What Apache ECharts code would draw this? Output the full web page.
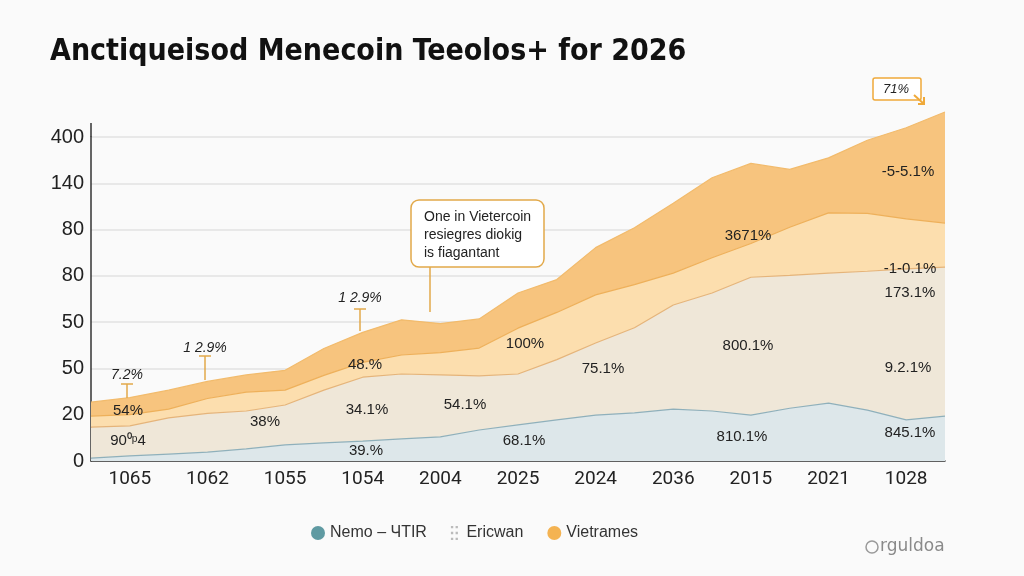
<!DOCTYPE html>
<html>
<head>
<meta charset="utf-8">
<script src="https://cdn.jsdelivr.net/npm/echarts@6/dist/echarts.min.js"></script>
<style>
html,body{margin:0;padding:0;background:#fafafa;}
#chart{width:1024px;height:576px;}
</style>
</head>
<body>
<div id="chart"></div>
<script>
// Category tick labels shown on the x axis
const categories = ['1065','1062','1055','1054','2004','2025','2024','2036','2015','2021','1028'];
// y tick labels (printed at equally spaced ticks 0..7)
const yTickLabels = ['0','20','50','50','80','80','140','400'];
// sample positions (half-category steps, edge to edge)
const samples = ['s0','s1','s2','s3','s4','s5','s6','s7','s8','s9','s10','s11','s12','s13','s14','s15','s16','s17','s18','s19','s20','s21','s22'];
// stacked layer thickness, in tick units
const nemo = [0.06,0.11,0.15,0.19,0.26,0.35,0.39,0.43,0.48,0.52,0.67,0.78,0.89,0.99,1.04,1.12,1.08,0.99,1.14,1.25,1.10,0.89,0.97];
const ericwan = [0.67,0.65,0.78,0.84,0.82,0.86,1.14,1.38,1.40,1.34,1.17,1.10,1.30,1.56,1.84,2.25,2.55,2.98,2.87,2.81,3.00,3.26,3.22];
const middle = [0.24,0.24,0.19,0.32,0.41,0.32,0.32,0.32,0.41,0.48,0.60,0.99,1.02,1.04,0.93,0.69,0.76,0.73,1.04,1.30,1.25,1.08,0.95];
const vietrames = [0.30,0.37,0.41,0.37,0.37,0.43,0.58,0.65,0.76,0.63,0.63,0.76,0.71,1.02,1.23,1.51,1.73,1.73,1.25,1.19,1.58,1.97,2.40];

const areaLabels = [
  ['54%',128,411],['90⁰ᵖ4',128,441],['38%',265,422],['48.%',365,365],['34.1%',367,410],['39.%',366,451],
  ['54.1%',465,405],['100%',525,344],['68.1%',524,441],['75.1%',603,369],['3671%',748,236],
  ['800.1%',748,346],['810.1%',742,437],['-5-5.1%',908,172],['-1-0.1%',910,269],['173.1%',910,293],
  ['9.2.1%',908,368],['845.1%',910,433]
];
const stemLabels = [
  ['7.2%',127,375,384,398],['1 2.9%',205,348,356,380],['1 2.9%',360,298,309,331]
];

const chart = echarts.init(document.getElementById('chart'));
const graphics = [];
areaLabels.forEach(([t,x,y]) => graphics.push({type:'text',x:x,y:y,z:50,
  style:{text:t,fill:'#222',font:'15px "Liberation Sans", Arial',textAlign:'center',textVerticalAlign:'middle'}}));
stemLabels.forEach(([t,x,y,y1,y2]) => {
  graphics.push({type:'text',x:x,y:y,z:50,style:{text:t,fill:'#222',font:'italic 14px "Liberation Sans", Arial',textAlign:'center',textVerticalAlign:'middle'}});
  graphics.push({type:'line',z:50,shape:{x1:x,y1:y1,x2:x,y2:y2},style:{stroke:'#e2a94a',lineWidth:1.5}});
  graphics.push({type:'line',z:50,shape:{x1:x-6,y1:y1,x2:x+6,y2:y1},style:{stroke:'#e2a94a',lineWidth:1.5}});
});
// callout
graphics.push({type:'line',z:50,shape:{x1:430,y1:267,x2:430,y2:312},style:{stroke:'#e2a94a',lineWidth:1.5}});
graphics.push({type:'rect',z:51,shape:{x:411,y:200,width:133,height:67,r:8},style:{fill:'#fff',stroke:'#e2a94a',lineWidth:1.5}});
['One in Vietercoin','resiegres diokig','is fiagantant'].forEach((t,i)=>graphics.push({type:'text',z:52,x:424,y:217+i*18,
  style:{text:t,fill:'#222',font:'14px "Liberation Sans", Arial',textVerticalAlign:'middle'}}));
// 71% tag
graphics.push({type:'rect',z:51,shape:{x:873,y:78,width:48,height:22,r:2},style:{fill:'#fff',stroke:'#efa93a',lineWidth:1.5}});
graphics.push({type:'text',z:52,x:896,y:89,style:{text:'71%',fill:'#222',font:'italic 13px "Liberation Sans", Arial',textAlign:'center',textVerticalAlign:'middle'}});
graphics.push({type:'polyline',z:52,shape:{points:[[914,95],[924,104]]},style:{stroke:'#efa93a',lineWidth:2}});
graphics.push({type:'polyline',z:52,shape:{points:[[918,104],[924,104],[924,97]]},style:{stroke:'#efa93a',lineWidth:2,fill:null}});
// y axis extension
graphics.push({type:'line',z:40,shape:{x1:91,y1:123,x2:91,y2:137},style:{stroke:'#333',lineWidth:1.5}});
// title
graphics.push({type:'text',x:50,y:52,style:{text:'Anctiqueisod Menecoin Teeolos+ for 2026',fill:'#111',
  font:'bold 30px "DejaVu Sans Condensed", "DejaVu Sans"',textVerticalAlign:'middle'}});
// watermark
graphics.push({type:'circle',shape:{cx:872,cy:547,r:6},style:{fill:'none',stroke:'#9a9a9a',lineWidth:1.5}});
graphics.push({type:'text',x:880,y:547,style:{text:'rguldoa',fill:'#8a8a8a',font:'17px "DejaVu Sans"',textVerticalAlign:'middle'}});

const lineBase = {type:'line',stack:'all',xAxisIndex:1,symbol:'none',smooth:false,silent:true,clip:false};
chart.setOption({
  backgroundColor:'#fafafa',
  animation:false,
  grid:{left:91,right:79,top:137,bottom:115},
  legend:{
    bottom:30,left:306,itemGap:24,itemWidth:14,itemHeight:14,
    textStyle:{fontSize:16,color:'#333',fontFamily:'"Liberation Sans", Arial'},
    data:[
      {name:'Nemo – ЧTIR',icon:'circle',itemStyle:{color:'#5f9aa2'}},
      {name:'Ericwan',icon:'path://M0,0h2v2h-2zM0,5h2v2h-2zM0,10h2v2h-2zM4,0h2v2h-2zM4,5h2v2h-2zM4,10h2v2h-2z',itemStyle:{color:'#bbb'}},
      {name:'Vietrames',icon:'circle',itemStyle:{color:'#f4b352'}}
    ]
  },
  xAxis:[
    {type:'category',data:categories,boundaryGap:true,
     axisLine:{lineStyle:{color:'#333',width:1.5}},
     axisTick:{alignWithLabel:true,length:5,lineStyle:{color:'#333'}},
     axisLabel:{fontSize:19,color:'#222',margin:9,fontFamily:'Roboto, "Liberation Sans"'},
     splitLine:{show:false}},
    {type:'category',data:samples,boundaryGap:false,show:false}
  ],
  yAxis:{type:'value',min:0,max:7,interval:1,
    axisLine:{show:true,lineStyle:{color:'#333',width:1.5}},
    axisTick:{show:false},
    axisLabel:{fontSize:20,color:'#222',margin:7,fontFamily:'"Liberation Sans", Arial',formatter:v=>yTickLabels[Math.round(v)]||''},
    splitLine:{lineStyle:{color:'#e2e2e2',width:1.5}}},
  graphic:graphics,
  series:[
    Object.assign({},lineBase,{name:'Nemo – ЧTIR',data:nemo,lineStyle:{color:'#8fb0bb',width:1.2},areaStyle:{color:'#dde7ea',opacity:1},itemStyle:{color:'#5f9aa2'}}),
    Object.assign({},lineBase,{name:'Ericwan',data:ericwan,lineStyle:{color:'#e5b47a',width:1.2},areaStyle:{color:'#efe7d8',opacity:1}}),
    Object.assign({},lineBase,{name:'Mid',data:middle,lineStyle:{color:'#eeb05a',width:1.2},areaStyle:{color:'#fcdeae',opacity:1}}),
    Object.assign({},lineBase,{name:'Vietrames',data:vietrames,lineStyle:{color:'#f2bb6c',width:1.2},areaStyle:{color:'#f7c47e',opacity:1},itemStyle:{color:'#f4b352'}})
  ]
});
</script>
</body>
</html>
